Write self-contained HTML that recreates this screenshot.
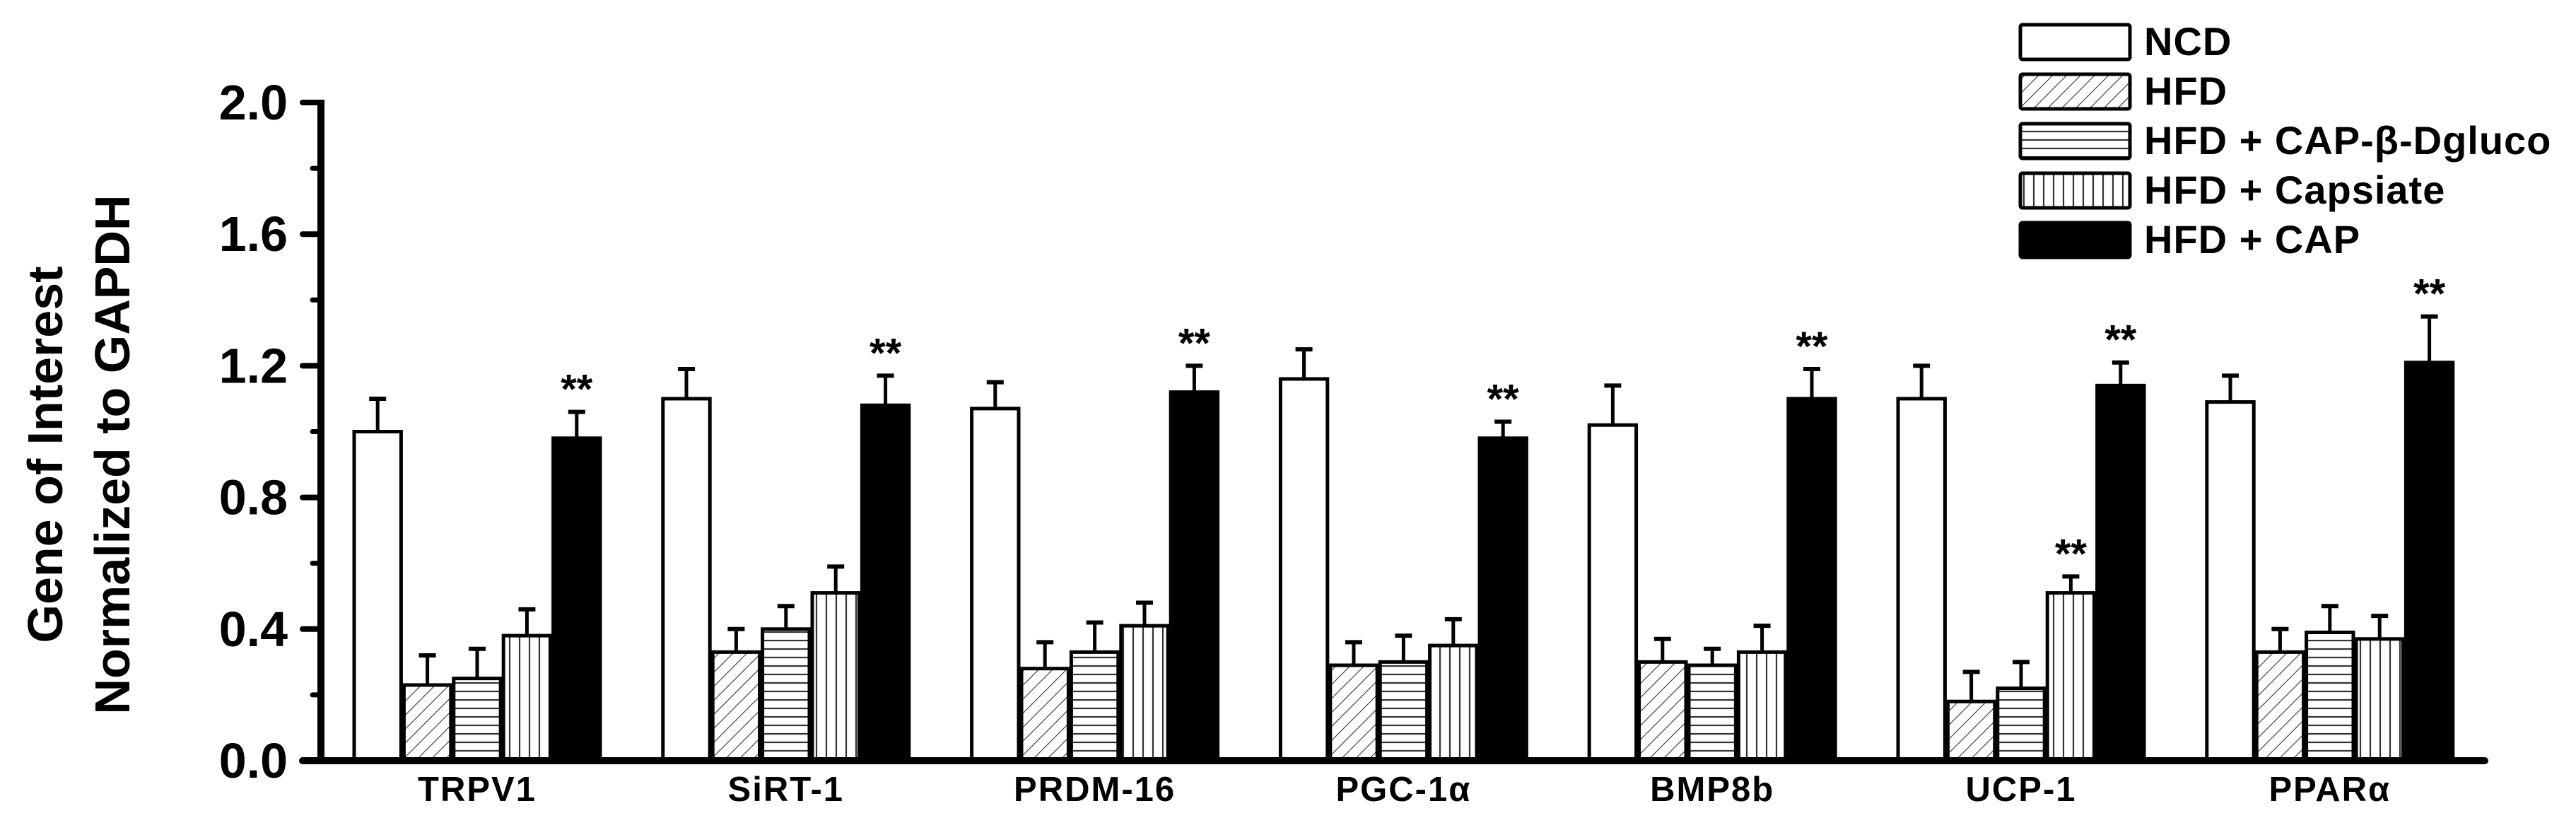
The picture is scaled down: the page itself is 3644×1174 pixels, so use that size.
<!DOCTYPE html>
<html><head><meta charset="utf-8"><style>
html,body{margin:0;padding:0;background:#fff;width:3644px;height:1174px;overflow:hidden}
svg{display:block;font-family:"Liberation Sans",Arial,sans-serif;font-weight:bold}
</style></head><body>
<svg id="chart" width="3644" height="1174" viewBox="0 0 3644 1174" xmlns="http://www.w3.org/2000/svg">
<defs>
<pattern id="pDiag" patternUnits="userSpaceOnUse" width="14" height="14" patternTransform="rotate(45)"><rect width="14" height="14" fill="#fff"/><line x1="0" y1="0" x2="0" y2="14" stroke="#333" stroke-width="2.2"/></pattern>
<pattern id="pHor" patternUnits="userSpaceOnUse" width="12" height="12"><rect width="12" height="12" fill="#fff"/><line x1="0" y1="6" x2="12" y2="6" stroke="#333" stroke-width="2.2"/></pattern>
<pattern id="pVer" patternUnits="userSpaceOnUse" width="14" height="14"><rect width="14" height="14" fill="#fff"/><line x1="7" y1="0" x2="7" y2="14" stroke="#333" stroke-width="2.2"/></pattern>
</defs>
<g id="ytitle">
<text transform="translate(88,643) rotate(-90)" text-anchor="middle" font-size="70">Gene of Interest</text>
<text transform="translate(183,643) rotate(-90)" text-anchor="middle" font-size="70">Normalized to GAPDH</text>
</g>
<g id="bars"></g>
<g id="axes"></g>
<g id="legend"></g>
</svg>
<script>
const categories = ["TRPV1","SiRT-1","PRDM-16","PGC-1\u03b1","BMP8b","UCP-1","PPAR\u03b1"];
const seriesNames = ["NCD","HFD","HFD + CAP-\u03b2-Dgluco","HFD + Capsiate","HFD + CAP"];
const ncd      = [1.00,1.10,1.07,1.16,1.02,1.10,1.09];
const ncdErr   = [0.10,0.09,0.08,0.09,0.12,0.10,0.08];
const hfd      = [0.23,0.33,0.28,0.29,0.30,0.18,0.33];
const hfdErr   = [0.09,0.07,0.08,0.07,0.07,0.09,0.07];
const gluco    = [0.25,0.40,0.33,0.30,0.29,0.22,0.39];
const glucoErr = [0.09,0.07,0.09,0.08,0.05,0.08,0.08];
const capsiate = [0.38,0.51,0.41,0.35,0.33,0.51,0.37];
const capsErr  = [0.08,0.08,0.07,0.08,0.08,0.05,0.07];
const cap      = [0.98,1.08,1.12,0.98,1.10,1.14,1.21];
const capErr   = [0.08,0.09,0.08,0.05,0.09,0.07,0.14];
const capsiateSig = [false,false,false,false,false,true,false];
const capSig      = [true,true,true,true,true,true,true];
const yTicks = [0.0,0.4,0.8,1.2,1.6,2.0];
const yTickLabels = ["0.0","0.4","0.8","1.2","1.6","2.0"];

const NS="http://www.w3.org/2000/svg";
const Y0=1076, PXU=465.5, AX=454, G0=499, GS=436.8, BW=70.4;
const yS=v=>Y0-v*PXU;
const xS=(g,s)=>G0+g*GS+s*BW;
function mk(tag,attrs,parent){const e=document.createElementNS(NS,tag);for(const k in attrs)e.setAttribute(k,attrs[k]);parent.appendChild(e);return e;}
const fills=["#fff","url(#pDiag)","url(#pHor)","url(#pVer)","#000"];
const vals=[ncd,hfd,gluco,capsiate,cap];
const errs=[ncdErr,hfdErr,glucoErr,capsErr,capErr];
const sigs=[null,null,null,capsiateSig,capSig];
const keys=["ncd","hfd","gluco","capsiate","cap"];
const bars=document.getElementById('bars');
categories.forEach((c,g)=>{
  for(let s=0;s<5;s++){
    const v=vals[s][g], e=errs[s][g], x=xS(g,s), cx=x+BW/2;
    const eb=mk('g',{},bars);
    
    
    mk('line',{x1:cx,y1:yS(v),x2:cx,y2:yS(v+e),stroke:'#000','stroke-width':5},eb);
    mk('line',{x1:cx-12,y1:yS(v+e),x2:cx+12,y2:yS(v+e),stroke:'#000','stroke-width':6},eb);
    const r=mk('rect',{x:x+2,y:yS(v),width:BW-4,height:Y0-yS(v),fill:fills[s],stroke:'#000','stroke-width':5},bars);
    
    
    if(sigs[s]&&sigs[s][g]){
      const t=mk('text',{x:cx,y:yS(v+e)-12,'text-anchor':'middle','font-size':58},bars);
      t.textContent='**';
      
      
    }
  }
  const lbl=mk('text',{x:xS(g,2.5),y:1133,'text-anchor':'middle','font-size':49,'letter-spacing':2},bars);
  lbl.textContent=c;
  
  
});
const axes=document.getElementById('axes');
const ya=mk('line',{x1:AX,y1:yS(2.0)-4,x2:AX,y2:Y0+5,stroke:'#000','stroke-width':10},axes);


const xa=mk('line',{x1:428,y1:Y0,x2:3515,y2:Y0,stroke:'#000','stroke-width':10,'stroke-linecap':'round'},axes);


yTicks.forEach((t,i)=>{
  mk('line',{x1:428,y1:yS(t),x2:AX,y2:yS(t),stroke:'#000','stroke-width':8,'stroke-linecap':'round'},axes);
  const tl=mk('text',{x:407,y:yS(t)+24,'text-anchor':'end','font-size':70},axes);
  tl.textContent=yTickLabels[i];
  
  
  if(i<yTicks.length-1) mk('line',{x1:442,y1:yS(t+0.2),x2:AX,y2:yS(t+0.2),stroke:'#000','stroke-width':7,'stroke-linecap':'round'},axes);
});
const leg=document.getElementById('legend');
seriesNames.forEach((n,i)=>{
  const top=33+i*70;
  const ge=mk('g',{},leg);
  
  
  mk('rect',{x:2858,y:top+2,width:155,height:49,rx:3,fill:fills[i],stroke:'#000','stroke-width':5},ge);
  const t=mk('text',{x:3033,y:top+45,'font-size':56,'letter-spacing':1},ge);
  t.textContent=n;
});
</script>
</body></html>
